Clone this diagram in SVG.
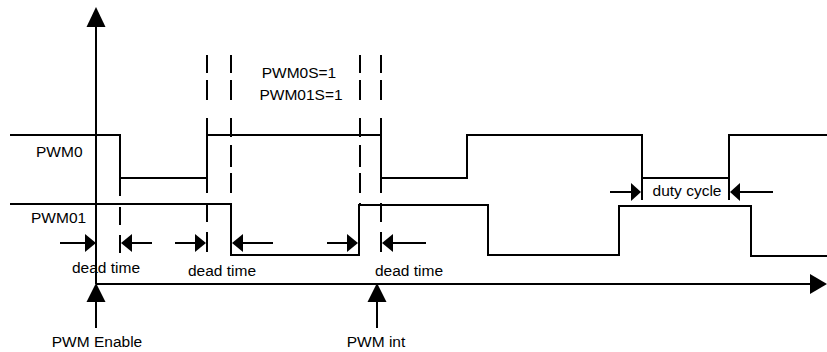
<svg xmlns="http://www.w3.org/2000/svg" width="827" height="352" viewBox="0 0 827 352">
<style>
.s{fill:none;stroke:#000;stroke-width:2}
.d{fill:none;stroke:#000;stroke-width:2;stroke-dasharray:18 7 20 18 19 8 22 6 20 10 19 10 20 200}
.h{fill:#000;stroke:none}
text{font-family:"Liberation Sans",Arial,sans-serif;font-size:15.5px;fill:#000}
</style>
<rect width="827" height="352" fill="#fff"/>
<g id="axes">
<line class="s" x1="96" y1="24" x2="96" y2="284"/>
<polygon class="h" points="96,7 86.5,27 105.5,27"/>
<line class="s" x1="96" y1="284" x2="812" y2="284"/>
<polygon class="h" points="827,284 810,274 810,294"/>
</g>
<g id="dashes">
<line class="s" x1="120" y1="178" x2="120" y2="196"/>
<line class="s" x1="120" y1="207" x2="120" y2="225"/>
<line class="s" x1="120" y1="235" x2="120" y2="253"/>
<line class="d" x1="207" y1="55" x2="207" y2="252"/>
<line class="s" x1="207" y1="118" x2="207" y2="193"/>
<line class="d" x1="231" y1="55" x2="231" y2="204"/>
<line class="d" x1="360" y1="55" x2="360" y2="204"/>
<line class="d" x1="381" y1="55" x2="381" y2="252"/>
<line class="s" x1="381" y1="118" x2="381" y2="193"/>
</g>
<g id="pwm0">
<polyline class="s" points="10,135 120,135 120,178 207,178 207,135 381,135 381,178 467,178 467,135 642,135 642,178 729,178 729,135 827,135"/>
<text x="36" y="157">PWM0</text>
</g>
<g id="pwm01">
<polyline class="s" points="10,204 231,204 231,255 359,255 359,205 488,205 488,255 619,255 619,206 751,206 751,256 827,256"/>
<text x="31" y="223">PWM01</text>
</g>
<g id="deadtime">
<line class="s" x1="60" y1="243" x2="86" y2="243"/>
<polygon class="h" points="96,243 85,234 85,252"/>
<line class="s" x1="131" y1="243" x2="152" y2="243"/>
<polygon class="h" points="121,243 132,234 132,252"/>
<line class="s" x1="175" y1="243" x2="196" y2="243"/>
<polygon class="h" points="206,243 195,234 195,252"/>
<line class="s" x1="242" y1="243" x2="273" y2="243"/>
<polygon class="h" points="232,243 243,234 243,252"/>
<line class="s" x1="327" y1="243" x2="349" y2="243"/>
<polygon class="h" points="358,243 347,234 347,252"/>
<line class="s" x1="392" y1="243" x2="426" y2="243"/>
<polygon class="h" points="382,243 393,234 393,252"/>
<text x="106" y="273" text-anchor="middle">dead time</text>
<text x="222" y="276" text-anchor="middle">dead time</text>
<text x="409" y="276" text-anchor="middle">dead time</text>
</g>
<g id="dutycycle">
<line class="s" x1="642" y1="178" x2="642" y2="200"/>
<line class="s" x1="729" y1="178" x2="729" y2="200"/>
<line class="s" x1="610" y1="192" x2="632" y2="192"/>
<polygon class="h" points="641,192 631,183 631,201"/>
<line class="s" x1="739" y1="192" x2="773" y2="192"/>
<polygon class="h" points="730,192 740,183 740,201"/>
<text x="687" y="196" text-anchor="middle">duty cycle</text>
</g>
<g id="pwm-setting">
<text x="299" y="78" text-anchor="middle">PWM0S=1</text>
<text x="301" y="100" text-anchor="middle">PWM01S=1</text>
</g>
<g id="pwm-enable">
<line class="s" x1="96" y1="300" x2="96" y2="328"/>
<polygon class="h" points="96,283 86.5,302 105.5,302"/>
<text x="97" y="347" text-anchor="middle">PWM Enable</text>
</g>
<g id="pwm-int">
<line class="s" x1="377" y1="300" x2="377" y2="328"/>
<polygon class="h" points="377,283 367.5,302 386.5,302"/>
<text x="376" y="347" text-anchor="middle">PWM int</text>
</g>
</svg>
